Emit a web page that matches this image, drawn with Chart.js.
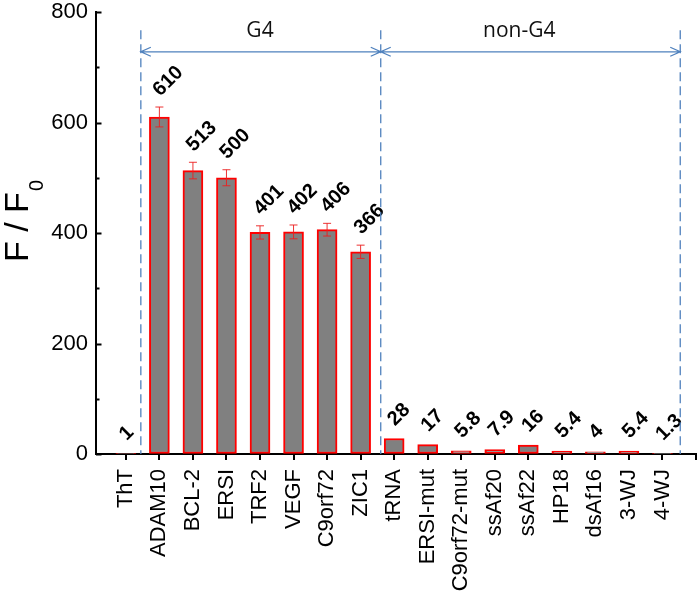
<!DOCTYPE html>
<html>
<head>
<meta charset="utf-8">
<script src="https://cdn.jsdelivr.net/npm/chart.js@4"></script>
<style>
  body { margin: 0; background: #fff; }
  #wrap { width: 700px; height: 592px; }
</style>
</head>
<body>
<div id="wrap"><canvas id="fluo"></canvas></div>
<script>
// samples and F/F0 values
var samples = ['ThT', 'ADAM10', 'BCL-2', 'ERSI', 'TRF2', 'VEGF', 'C9orf72', 'ZIC1',
  'tRNA', 'ERSI-mut', 'C9orf72-mut', 'ssAf20', 'ssAf22', 'HP18', 'dsAf16', '3-WJ', '4-WJ'];
var ratio = [1, 610, 513, 500, 401, 402, 406, 366, 28, 17, 5.8, 7.9, 16, 5.4, 4, 5.4, 1.3];
var errs = [0, 18, 15, 14.5, 12, 12.5, 11.5, 12, 0, 0, 0, 0, 0, 0, 0, 0, 0];
var yTicks = [0, 200, 400, 600, 800];

// group brackets (x in sample index units, y in F/F0 units)
var groupNames = ['G4', 'non-G4'];
var groupEdges = [1.447, 8.6, 17.53];
var groupLabelX = [5.0, 12.73];

var FONT = '"Liberation Sans", Arial, sans-serif';
var BLUE = '#4f81bd';

function arrowHead(ctx, x, y, dir) {
  ctx.moveTo(x - dir * 10, y - 4.5);
  ctx.lineTo(x, y);
  ctx.lineTo(x - dir * 10, y + 4.5);
}

var extras = {
  id: 'extras',
  afterDatasetsDraw: function(chart) {
    var ctx = chart.ctx, xs = chart.scales.x, ys = chart.scales.y, area = chart.chartArea;
    var bars = chart.getDatasetMeta(0).data;
    ctx.save();

    // error bars
    ctx.strokeStyle = 'rgba(235,30,30,0.9)';
    ctx.lineWidth = 1;
    bars.forEach(function(bar, i) {
      if (!errs[i]) return;
      var top = ys.getPixelForValue(ratio[i] + errs[i]);
      var bot = ys.getPixelForValue(ratio[i] - errs[i]);
      ctx.beginPath();
      ctx.moveTo(bar.x, top); ctx.lineTo(bar.x, bot);
      ctx.moveTo(bar.x - 4, top); ctx.lineTo(bar.x + 4, top);
      ctx.moveTo(bar.x - 4, bot); ctx.lineTo(bar.x + 4, bot);
      ctx.stroke();
    });

    // value labels, tilted
    ctx.fillStyle = '#000';
    ctx.font = 'bold 20px ' + FONT;
    ctx.textAlign = 'left';
    ctx.textBaseline = 'middle';
    bars.forEach(function(bar, i) {
      var y = ys.getPixelForValue(ratio[i] + errs[i]) - (errs[i] ? 14 : 16);
      ctx.save();
      ctx.translate(bar.x - 3, y);
      ctx.rotate(-Math.PI / 4);
      ctx.fillText(String(ratio[i]), 0, 0);
      ctx.restore();
    });

    // inward y ticks, major + minor
    ctx.strokeStyle = '#000';
    ctx.lineWidth = 2;
    ctx.beginPath();
    for (var v = 0; v <= 800; v += 100) {
      var py = Math.round(ys.getPixelForValue(v)) + 0.5;
      var len = (v % 200 === 0) ? 5.5 : 3.5;
      ctx.moveTo(area.left, py); ctx.lineTo(area.left + len, py);
    }
    ctx.stroke();

    // group dividers and arrows
    var yTop = ys.getPixelForValue(767), yArrow = ys.getPixelForValue(728);
    ctx.strokeStyle = BLUE;
    ctx.lineWidth = 1.3;
    ctx.setLineDash([9, 5]);
    ctx.beginPath();
    groupEdges.forEach(function(g) {
      var px = xs.getPixelForValue(g);
      ctx.moveTo(px, yTop); ctx.lineTo(px, area.bottom);
    });
    ctx.stroke();
    ctx.setLineDash([]);
    ctx.beginPath();
    for (var k = 0; k < groupNames.length; k++) {
      var a = xs.getPixelForValue(groupEdges[k]), b = xs.getPixelForValue(groupEdges[k + 1]);
      ctx.moveTo(a, yArrow); ctx.lineTo(b, yArrow);
      arrowHead(ctx, a, yArrow, -1);
      arrowHead(ctx, b, yArrow, 1);
    }
    ctx.stroke();

    ctx.fillStyle = '#111';
    ctx.font = '21px "Open Sans", sans-serif';
    ctx.textAlign = 'center';
    ctx.textBaseline = 'middle';
    groupNames.forEach(function(n, k) {
      ctx.fillText(n, xs.getPixelForValue(groupLabelX[k]), ys.getPixelForValue(765));
    });

    // axis title F / F0
    ctx.save();
    ctx.translate(area.left - 68, (area.top + area.bottom) / 2 + 29);
    ctx.rotate(-Math.PI / 2);
    ctx.fillStyle = '#000';
    ctx.textAlign = 'left';
    ctx.textBaseline = 'alphabetic';
    ctx.font = '34px ' + FONT;
    ctx.fillText('F / F', 0, 0);
    var w = ctx.measureText('F / F').width;
    ctx.font = '20px ' + FONT;
    ctx.fillText('0', w + 1, 15);
    ctx.restore();

    ctx.restore();
  }
};

new Chart(document.getElementById('fluo'), {
  type: 'bar',
  data: {
    datasets: [{
      data: ratio.map(function(v, i) { return { x: i + 1, y: v }; }),
      backgroundColor: '#808080',
      borderColor: '#ff0000',
      borderWidth: 2,
      borderSkipped: false,
      barThickness: 20
    }]
  },
  options: {
    responsive: true,
    maintainAspectRatio: false,
    animation: false,
    layout: { padding: { top: 12, right: 4, left: 0, bottom: 0 } },
    plugins: { legend: { display: false }, tooltip: { enabled: false } },
    scales: {
      x: {
        type: 'linear',
        min: 0.11,
        max: 18,
        offset: false,
        afterBuildTicks: function(s) {
          s.ticks = samples.map(function(l, i) { return { value: i + 1 }; }).concat([{ value: 18 }]);
        },
        afterFit: function(s) { s.height = 138; s.paddingLeft = 0; s.paddingRight = 0; },
        ticks: {
          autoSkip: false,
          minRotation: 90,
          maxRotation: 90,
          padding: 9,
          color: '#000',
          font: { size: 22, family: FONT },
          callback: function(v) { return samples[v - 1] || ''; }
        },
        grid: { drawOnChartArea: false, offset: false, tickLength: 6, lineWidth: 2, color: '#000' },
        border: { display: true, width: 2, color: '#000' }
      },
      y: {
        min: 0,
        max: 800,
        afterBuildTicks: function(s) {
          s.ticks = yTicks.map(function(v) { return { value: v }; });
        },
        afterFit: function(s) { s.width = 96; s.paddingTop = 0; s.paddingBottom = 0; },
        ticks: { padding: 8, color: '#000', font: { size: 22, family: FONT } },
        grid: { drawOnChartArea: false, drawTicks: false },
        border: { display: true, width: 2, color: '#000' }
      }
    }
  },
  plugins: [extras]
});
</script>
</body>
</html>
